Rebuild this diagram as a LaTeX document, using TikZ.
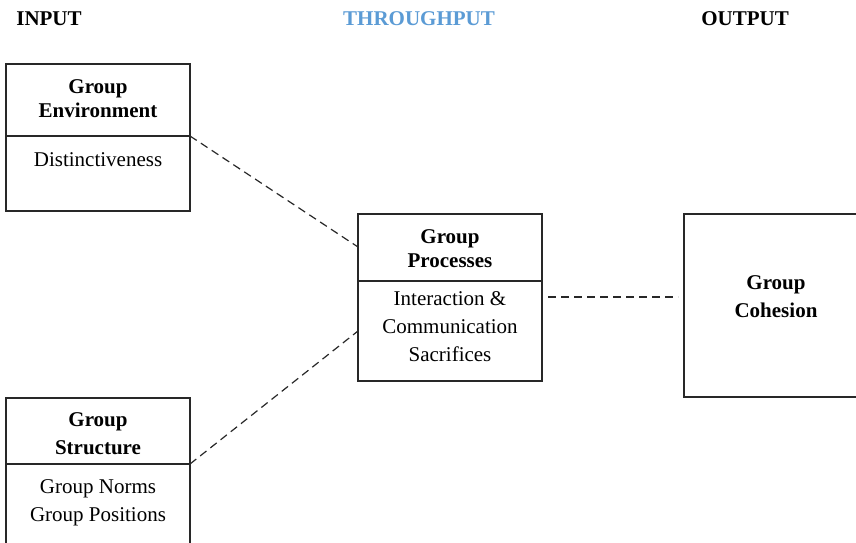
\documentclass[tikz,border=0pt]{standalone}
\usepackage{fontspec}
\setmainfont{Liberation Serif}
\definecolor{hdrblue}{RGB}{91,155,213}
\definecolor{linegray}{RGB}{40,40,40}
\begin{document}
\begin{tikzpicture}[x=1pt,y=-1pt,
  frame/.style={draw=linegray,line width=1.2pt,inner sep=0pt},
  hdr/.style={font=\fontsize{21}{24}\selectfont\bfseries,inner sep=0pt,anchor=center},
  ttl/.style={font=\fontsize{21}{24.5}\selectfont\bfseries,align=center,inner sep=0pt},
  ttlwide/.style={font=\fontsize{21}{28}\selectfont\bfseries,align=center,inner sep=0pt},
  body/.style={font=\fontsize{21}{28}\selectfont,align=center,inner sep=0pt},
  dashline/.style={draw=linegray,line width=1.2pt,dash pattern=on 8pt off 5pt}]
\useasboundingbox (0,0) rectangle (856,543);
\fill[white] (0,0) rectangle (856,543);
% headers
\node[hdr] (hin) at (49,19) {INPUT};
\node[hdr,text=hdrblue] (hthr) at (419,19) {THROUGHPUT};
\node[hdr] (hout) at (745,19) {OUTPUT};
% boxes
\node[frame,minimum width=184pt,minimum height=147pt] (env) at (98,137.5) {};
\node[frame,minimum width=184pt,minimum height=162pt] (str) at (98,479) {};
\node[frame,minimum width=184pt,minimum height=167pt] (proc) at (450,297.5) {};
\node[frame,minimum width=190pt,minimum height=183pt] (coh) at (779,305.5) {};
% dividers
\coordinate (envL) at (6,136); \coordinate (envR) at (190,136);
\coordinate (strL) at (6,464); \coordinate (strR) at (190,464);
\coordinate (procL) at (358,281); \coordinate (procR) at (542,281);
\draw[draw=linegray,line width=1.2pt] (envL) -- (envR);
\draw[draw=linegray,line width=1.2pt] (strL) -- (strR);
\draw[draw=linegray,line width=1.2pt] (procL) -- (procR);
% texts
\node[ttl] (envt) at (98,98.5) {Group\\Environment};
\node[body] (envb) at (98,159.5) {Distinctiveness};
\node[ttlwide] (strt) at (98,433.5) {Group\\Structure};
\node[body] (strb) at (98,502.5) {Group Norms\\Group Positions};
\node[ttl] (proct) at (450,248.5) {Group\\Processes};
\node[body] (procb) at (450,326.5) {Interaction \&\\Communication\\Sacrifices};
\node[ttlwide] (coht) at (776,296.5) {Group\\Cohesion};
% connectors
\coordinate (procIn1) at (358,247);
\coordinate (procIn2) at (358,331);
\coordinate (hA) at (548,297);
\coordinate (hB) at (678,297);
\draw[dashline] (envR) -- (procIn1);
\draw[dashline] (strR) -- (procIn2);
\draw[dashline] (hA) -- (hB);
\end{tikzpicture}
\end{document}
